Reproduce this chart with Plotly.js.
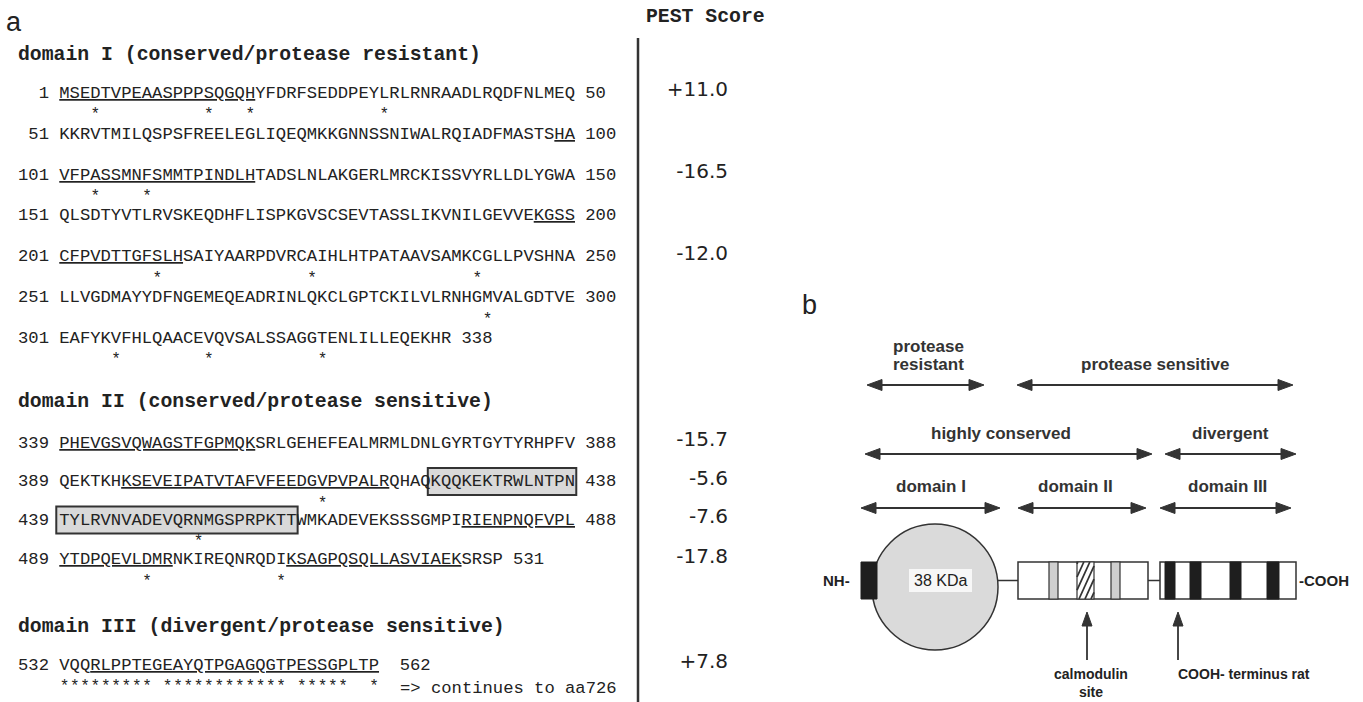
<!DOCTYPE html>
<html><head><meta charset="utf-8">
<script src="https://cdn.plot.ly/plotly-3.0.1.min.js"></script>
<style>html,body{margin:0;padding:0;background:#fff;} #chart{width:1363px;height:702px;}</style>
</head><body><div id="chart"></div>
<script>
// ================= DATA =================
const rowStarts = [1, 51, 101, 151, 201, 251, 301, 339, 389, 439, 489, 532];
const rowSequences = [
  "MSEDTVPEAASPPPSQGQHYFDRFSEDDPEYLRLRNRAADLRQDFNLMEQ",
  "KKRVTMILQSPSFREELEGLIQEQMKKGNNSSNIWALRQIADFMASTSHA",
  "VFPASSMNFSMMTPINDLHTADSLNLAKGERLMRCKISSVYRLLDLYGWA",
  "QLSDTYVTLRVSKEQDHFLISPKGVSCSEVTASSLIKVNILGEVVEKGSS",
  "CFPVDTTGFSLHSAIYAARPDVRCAIHLHTPATAAVSAMKCGLLPVSHNA",
  "LLVGDMAYYDFNGEMEQEADRINLQKCLGPTCKILVLRNHGMVALGDTVE",
  "EAFYKVFHLQAACEVQVSALSSAGGTENLILLEQEKHR",
  "PHEVGSVQWAGSTFGPMQKSRLGEHEFEALMRMLDNLGYRTGYTYRHPFV",
  "QEKTKHKSEVEIPATVTAFVFEEDGVPVPALRQHAQKQQKEKTRWLNTPN",
  "TYLRVNVADEVQRNMGSPRPKTTWMKADEVEKSSSGMPIRIENPNQFVPL",
  "YTDPQEVLDMRNKIREQNRQDIKSAGPQSQLLASVIAEKSRSP",
  "VQQRLPPTEGEAYQTPGAGQGTPESSGPLTP"
];
const domainTitles = [
  "domain I (conserved/protease resistant)",
  "domain II (conserved/protease sensitive)",
  "domain III (divergent/protease sensitive)"
];
// underlined PEST regions (residue numbers, inclusive)
const pestRegions = [[1,19],[99,119],[197,212],[339,357],[395,420],[478,499],[511,527],[535,562]];
// shaded / boxed region (residue numbers, inclusive)
const boxedRegion = [425, 461];
// residues marked with an asterisk
const starResidues = [4,15,19,32, 104,109, 210,225,241, 292, 306,315,326, 414, 452, 497,510,
  532,533,534,535,536,537,538,539,540, 542,543,544,545,546,547,548,549,550,551,552,553,
  555,556,557,558,559, 562];
const continuationNote = "=> continues to aa726";
// PEST scores and the row (first residue) they belong to
const pestRows = [1, 101, 201, 339, 389, 439, 489, 532];
const pestScores = [11.0, -16.5, -12.0, -15.7, -5.6, -7.6, -17.8, 7.8];
const pestHeader = "PEST Score";
// panel b labels
const topLabels = ["protease", "resistant", "protease sensitive"];
const midLabels = ["highly conserved", "divergent"];
const domainLabels = ["domain I", "domain II", "domain III"];
const massLabel = "38 KDa";
const endLabels = ["NH-", "-COOH"];
const siteLabels = ["calmodulin", "site", "COOH- terminus rat"];

// ================= LAYOUT CONSTANTS =================
const NB = "\u00A0";
const MONO = "Courier New, Liberation Mono, monospace";
const SANS = "Liberation Sans, Arial, Helvetica, sans-serif";
const INK = "#222";
const FS = 17.2, CW = FS * 0.6, X0 = 17, TXT_OFF = 1;
const rowY = [93.3, 134.2, 175, 215.8, 256.6, 297.5, 338.3, 443, 481.5, 520, 559.5, 665];
const headingY = [55, 401.5, 626.5];

const annotations = [];
const shapes = [];
function ann(o){ annotations.push(Object.assign({xref:'x', yref:'y', showarrow:false, xanchor:'left', yanchor:'middle', borderpad:0}, o)); }
function pad3(n){ let s = String(n); while (s.length < 3) s = NB + s; return s; }
function inPest(r){ return pestRegions.some(p => r >= p[0] && r <= p[1]); }
function charCenter(i){ return X0 + TXT_OFF + (4 + i + 0.5) * CW; }

// panel a label
ann({x: 5, y: 22, text: 'a', font:{family:SANS, size:27, color:INK}});

// headings
domainTitles.forEach((t, i) => {
  ann({x: X0, y: headingY[i], text: '<b>' + t.replace(/ /g, NB) + '</b>', font:{family:MONO, size:19.8, color:INK}});
});

const starX = [], starY = [];
rowSequences.forEach((seq, r) => {
  const start = rowStarts[r];
  const end = start + seq.length - 1;
  let m = '', inU = false;
  for (let i = 0; i < seq.length; i++) {
    const u = inPest(start + i);
    if (u && !inU) m += '<u>';
    if (!u && inU) m += '</u>';
    m += seq[i]; inU = u;
  }
  if (inU) m += '</u>';
  const sep = (r === rowSequences.length - 1) ? NB + NB : NB;
  ann({x: X0, y: rowY[r], text: pad3(start) + NB + m + sep + end, font:{family:MONO, size:FS, color:INK}});

  starResidues.forEach(res => {
    if (res >= start && res <= end) { starX.push(charCenter(res - start)); starY.push(rowY[r] + 22); }
  });

  const b0 = Math.max(boxedRegion[0], start), b1 = Math.min(boxedRegion[1], end);
  if (b0 <= b1) {
    const i0 = b0 - start, i1 = b1 - start;
    shapes.push({type:'rect', layer:'below', xref:'x', yref:'y',
      x0: X0 + TXT_OFF + (4 + i0) * CW - 3, x1: X0 + TXT_OFF + (4 + i1 + 1) * CW + 1,
      y0: rowY[r] - 13.5, y1: rowY[r] + 13.5,
      fillcolor:'#d9d9d9', line:{color:'#333', width:2}});
  }
});
const lastR = rowSequences.length - 1;
ann({x: X0 + TXT_OFF + (4 + rowSequences[lastR].length + 2) * CW - 1, y: rowY[lastR] + 23,
     text: continuationNote.replace(/ /g, NB), font:{family:MONO, size:FS, color:INK}});

// divider + header
shapes.push({type:'line', xref:'x', yref:'y', x0:638, x1:638, y0:38, y1:702, line:{color:'#333', width:2.5}});
ann({x: 645, y: 17, text: '<b>' + pestHeader.replace(/ /g, NB) + '</b>', font:{family:MONO, size:19.8, color:INK}});

// traces: PEST scores + asterisks
const pestText = pestScores.map(v => (v > 0 ? '+' : '-') + Math.abs(v).toFixed(1));
const pestY = pestRows.map(rs => rowY[rowStarts.indexOf(rs)] - 2);
const traces = [
  {type:'scatter', mode:'text', x: pestRows.map(() => 728), y: pestY, text: pestText,
   textposition:'middle left', textfont:{family:'DejaVu Sans, sans-serif', size:20, color:INK},
   hoverinfo:'skip', cliponaxis:false},
  {type:'scatter', mode:'text', x: starX, y: starY, text: starX.map(() => '*'),
   textposition:'middle center', textfont:{family:MONO, size:16, color:INK},
   hoverinfo:'skip', cliponaxis:false}
];

// ================= PANEL b =================
function dblArrow(x0, x1, y){
  const L = 15, H = 5.5;
  shapes.push({type:'line', xref:'x', yref:'y', x0:x0 + 4, x1:x1 - 4, y0:y, y1:y, line:{color:'#333', width:2}});
  shapes.push({type:'path', xref:'x', yref:'y', path:`M${x0},${y} L${x0+L},${y-H} L${x0+L},${y+H} Z`, fillcolor:'#333', line:{color:'#333', width:1}});
  shapes.push({type:'path', xref:'x', yref:'y', path:`M${x1},${y} L${x1-L},${y-H} L${x1-L},${y+H} Z`, fillcolor:'#333', line:{color:'#333', width:1}});
}
function upArrow(x, yTip, yTail){
  const L = 14, H = 5;
  shapes.push({type:'line', xref:'x', yref:'y', x0:x, x1:x, y0:yTip + 6, y1:yTail, line:{color:'#333', width:1.8}});
  shapes.push({type:'path', xref:'x', yref:'y', path:`M${x},${yTip} L${x-H},${yTip+L} L${x+H},${yTip+L} Z`, fillcolor:'#333', line:{color:'#333', width:1}});
}
const bFont = {family:SANS, size:17, color:'#333'};
ann({x: 801, y: 305, text: 'b', font:{family:SANS, size:27, color:INK}});
ann({x: 928, y: 346, xanchor:'center', text: '<b>' + topLabels[0] + '</b>', font:bFont});
ann({x: 928, y: 364, xanchor:'center', text: '<b>' + topLabels[1] + '</b>', font:bFont});
ann({x: 1155, y: 364, xanchor:'center', text: '<b>' + topLabels[2] + '</b>', font:bFont});
dblArrow(867, 984, 385);
dblArrow(1017, 1293, 385);
ann({x: 1001, y: 433, xanchor:'center', text: '<b>' + midLabels[0] + '</b>', font:bFont});
ann({x: 1230, y: 433, xanchor:'center', text: '<b>' + midLabels[1] + '</b>', font:bFont});
dblArrow(865, 1152, 454);
dblArrow(1165, 1296, 454);
ann({x: 931, y: 486, xanchor:'center', text: '<b>' + domainLabels[0] + '</b>', font:bFont});
ann({x: 1075, y: 486, xanchor:'center', text: '<b>' + domainLabels[1] + '</b>', font:bFont});
ann({x: 1227, y: 486, xanchor:'center', text: '<b>' + domainLabels[2] + '</b>', font:bFont});
dblArrow(861, 1000, 508);
dblArrow(1018, 1146, 508);
dblArrow(1160, 1291, 508);

// protein schematic
const by0 = 562, by1 = 599, bym = (by0 + by1) / 2;
shapes.push({type:'line', xref:'x', yref:'y', x0:995, x1:1018, y0:bym, y1:bym, line:{color:'#333', width:1.5}});
shapes.push({type:'line', xref:'x', yref:'y', x0:1148, x1:1160, y0:bym, y1:bym, line:{color:'#333', width:1.5}});
shapes.push({type:'circle', xref:'x', yref:'y', x0:872, x1:998, y0:524, y1:650, fillcolor:'#dadada', line:{color:'#333', width:1.5}});
shapes.push({type:'rect', xref:'x', yref:'y', x0:861, x1:877, y0:by0, y1:by1, fillcolor:'#1e1e1e', line:{color:'#1e1e1e', width:1}});
shapes.push({type:'rect', xref:'x', yref:'y', x0:909, x1:972, y0:bym - 11.5, y1:bym + 11.5, fillcolor:'#f7f7f7', line:{width:0}});
ann({x: 940, y: bym, xanchor:'center', text: massLabel, font:{family:SANS, size:16, color:'#222'}});
ann({x: 851, y: bym, xanchor:'right', text: '<b>' + endLabels[0] + '</b>', font:{family:SANS, size:15, color:'#222'}});
ann({x: 1298, y: bym, xanchor:'left', text: '<b>' + endLabels[1] + '</b>', font:{family:SANS, size:15, color:'#222'}});
// domain II box
shapes.push({type:'rect', xref:'x', yref:'y', x0:1018, x1:1148, y0:by0, y1:by1, fillcolor:'#fff', line:{color:'#333', width:1.5}});
[[1049, 1058], [1111, 1120]].forEach(b => {
  shapes.push({type:'rect', xref:'x', yref:'y', x0:b[0], x1:b[1], y0:by0, y1:by1, fillcolor:'#cfcfcf', line:{color:'#333', width:1.2}});
});
shapes.push({type:'rect', xref:'x', yref:'y', x0:1077, x1:1094, y0:by0, y1:by1, fillcolor:'#fff', line:{color:'#333', width:1.2}});
(function(){ // hatch lines
  const hx0 = 1077, hx1 = 1094, step = 6, slope = 2.2;
  for (let k = -40; k < 40; k += step) {
    const xa = hx0 + k, xb = hx0 + k + (by1 - by0) / slope;
    let ya = by1, yb = by0, xs = xa, xe = xb;
    if (xs < hx0) { ya = by1 - (hx0 - xs) * slope; xs = hx0; }
    if (xe > hx1) { yb = by0 + (xe - hx1) * slope; xe = hx1; }
    if (xs < xe && ya > yb) shapes.push({type:'line', xref:'x', yref:'y', x0:xs, x1:xe, y0:ya, y1:yb, line:{color:'#333', width:1.8}});
  }
})();
// domain III box
shapes.push({type:'rect', xref:'x', yref:'y', x0:1160, x1:1296, y0:by0, y1:by1, fillcolor:'#fff', line:{color:'#333', width:1.5}});
[[1165, 1175], [1190, 1201], [1230, 1241], [1267, 1279]].forEach(b => {
  shapes.push({type:'rect', xref:'x', yref:'y', x0:b[0], x1:b[1], y0:by0, y1:by1, fillcolor:'#1e1e1e', line:{color:'#1e1e1e', width:1}});
});
upArrow(1087, 612, 660);
upArrow(1178, 612, 660);
const sFont = {family:SANS, size:14, color:'#222'};
ann({x: 1091, y: 701, xanchor:'center', yanchor:'bottom', text: '<b>' + siteLabels[0] + '<br>' + siteLabels[1] + '</b>', font:sFont});
ann({x: 1244, y: 674, xanchor:'center', text: '<b>' + siteLabels[2] + '</b>', font:sFont});

const layout = {
  width:1363, height:702, margin:{l:0, r:0, t:0, b:0},
  paper_bgcolor:'#fff', plot_bgcolor:'#fff', showlegend:false,
  xaxis:{range:[0,1363], visible:false, fixedrange:true},
  yaxis:{range:[702,0], visible:false, fixedrange:true},
  shapes: shapes, annotations: annotations
};
Plotly.newPlot('chart', traces, layout, {displayModeBar:false, staticPlot:true});
</script></body></html>
